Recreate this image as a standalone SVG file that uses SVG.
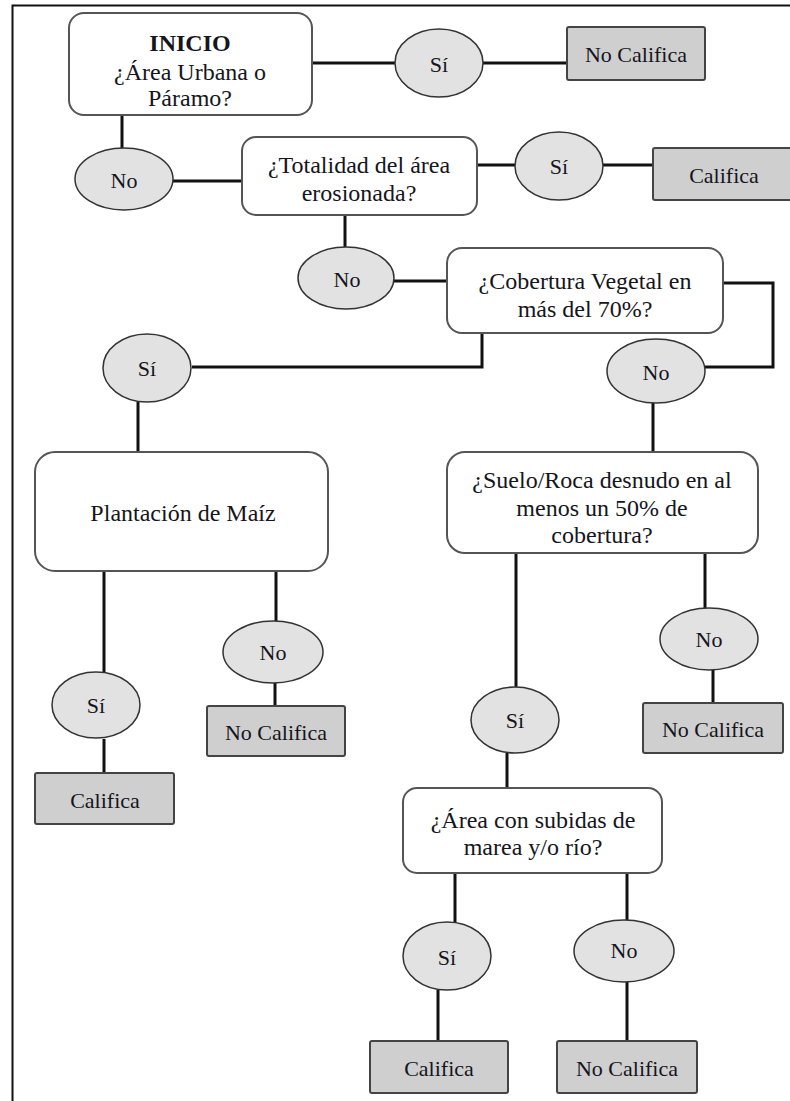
<svg xmlns="http://www.w3.org/2000/svg" width="790" height="1101" viewBox="0 0 790 1101">
<style>
text{font-family:"Liberation Serif","Times New Roman",serif;fill:#151520;text-anchor:middle;dominant-baseline:central}
.q{font-size:24px}
.l{font-size:22px}
.b{font-weight:bold}
.qbox{fill:#fff;stroke:#555;stroke-width:2}
.leaf{fill:#cfcfcf;stroke:#444;stroke-width:2}
.ell{fill:#e2e2e2;stroke:#333;stroke-width:1.5}
.c{fill:none;stroke:#111;stroke-width:3}
</style>
<rect width="790" height="1101" fill="#fff"/>
<path d="M12.5,1101 V5.5 H790" fill="none" stroke="#111" stroke-width="2"/>
<g id="connectors">
<path class="c" d="M312,63 H395"/>
<path class="c" d="M483,63 H567"/>
<path class="c" d="M122,115 V148"/>
<path class="c" d="M173,181 H242"/>
<path class="c" d="M477,165 H515"/>
<path class="c" d="M603,165 H653"/>
<path class="c" d="M345,215 V247"/>
<path class="c" d="M394,281 H447"/>
<path class="c" d="M192,367 H482 V333"/>
<path class="c" d="M723,283 H773 V367 H705"/>
<path class="c" d="M138,402 V452"/>
<path class="c" d="M653,403 V452"/>
<path class="c" d="M104,571 V672"/>
<path class="c" d="M104,739 V773"/>
<path class="c" d="M276,571 V621"/>
<path class="c" d="M275,683 V706"/>
<path class="c" d="M516,553 V687"/>
<path class="c" d="M507,753 V788"/>
<path class="c" d="M705,553 V608"/>
<path class="c" d="M713,670 V703"/>
<path class="c" d="M455,873 V923"/>
<path class="c" d="M438,990 V1041"/>
<path class="c" d="M627,873 V920"/>
<path class="c" d="M627,981 V1041"/>
</g>
<g id="inicio">
<rect class="qbox" x="69" y="13" width="243" height="102" rx="15"/>
<text class="q b" x="190" y="43">INICIO</text>
<text class="q" x="190" y="72">¿Área Urbana o</text>
<text class="q" x="190" y="98">Páramo?</text>
</g>
<g id="si1"><ellipse class="ell" cx="439" cy="63" rx="44" ry="34"/><text class="l" x="439" y="64">Sí</text></g>
<g id="nocalifica1"><rect class="leaf" x="567" y="27" width="138" height="53" rx="2"/><text class="l" x="636" y="54">No Califica</text></g>
<g id="no1"><ellipse class="ell" cx="124" cy="179" rx="49" ry="31"/><text class="l" x="124" y="180">No</text></g>
<g id="totalidad">
<rect class="qbox" x="242" y="137" width="235" height="78" rx="14"/>
<text class="q" x="359" y="165">¿Totalidad del área</text>
<text class="q" x="359" y="193">erosionada?</text>
</g>
<g id="si2"><ellipse class="ell" cx="559" cy="166" rx="44" ry="34"/><text class="l" x="559" y="166">Sí</text></g>
<g id="califica1"><rect class="leaf" x="653" y="148" width="145" height="52" rx="2"/><text class="l" x="724" y="175">Califica</text></g>
<g id="no2"><ellipse class="ell" cx="346" cy="278" rx="48" ry="31"/><text class="l" x="347" y="279">No</text></g>
<g id="cobertura">
<rect class="qbox" x="447" y="248" width="276" height="85" rx="15"/>
<text class="q" x="585" y="281">¿Cobertura Vegetal en</text>
<text class="q" x="585" y="309">más del 70%?</text>
</g>
<g id="si3"><ellipse class="ell" cx="147" cy="368" rx="44" ry="34"/><text class="l" x="147" y="368">Sí</text></g>
<g id="no3"><ellipse class="ell" cx="656" cy="371" rx="49" ry="32"/><text class="l" x="656" y="372">No</text></g>
<g id="plantacion">
<rect class="qbox" x="35" y="452" width="293" height="119" rx="20"/>
<text class="q" x="183" y="513">Plantación de Maíz</text>
</g>
<g id="suelo">
<rect class="qbox" x="447" y="452" width="311" height="101" rx="18"/>
<text class="q" x="602" y="480">¿Suelo/Roca desnudo en al</text>
<text class="q" x="602" y="508">menos un 50% de</text>
<text class="q" x="602" y="535">cobertura?</text>
</g>
<g id="no4"><ellipse class="ell" cx="273" cy="652" rx="50" ry="31"/><text class="l" x="273" y="652">No</text></g>
<g id="nocalifica2"><rect class="leaf" x="207" y="706" width="138" height="50" rx="2"/><text class="l" x="276" y="732">No Califica</text></g>
<g id="si4"><ellipse class="ell" cx="96" cy="705" rx="44" ry="33"/><text class="l" x="96" y="705">Sí</text></g>
<g id="califica2"><rect class="leaf" x="35" y="773" width="139" height="51" rx="2"/><text class="l" x="105" y="800">Califica</text></g>
<g id="no5"><ellipse class="ell" cx="709" cy="639" rx="49" ry="31"/><text class="l" x="709" y="639">No</text></g>
<g id="nocalifica3"><rect class="leaf" x="643" y="703" width="140" height="50" rx="2"/><text class="l" x="713" y="729">No Califica</text></g>
<g id="si5"><ellipse class="ell" cx="515" cy="720" rx="44" ry="33"/><text class="l" x="515" y="720">Sí</text></g>
<g id="area">
<rect class="qbox" x="403" y="788" width="259" height="85" rx="14"/>
<text class="q" x="533" y="820">¿Área con subidas de</text>
<text class="q" x="533" y="847">marea y/o río?</text>
</g>
<g id="si6"><ellipse class="ell" cx="447" cy="956" rx="44" ry="34"/><text class="l" x="447" y="957">Sí</text></g>
<g id="no6"><ellipse class="ell" cx="624" cy="951" rx="50" ry="31"/><text class="l" x="624" y="950">No</text></g>
<g id="califica3"><rect class="leaf" x="370" y="1041" width="138" height="52" rx="2"/><text class="l" x="439" y="1068">Califica</text></g>
<g id="nocalifica4"><rect class="leaf" x="557" y="1041" width="140" height="52" rx="2"/><text class="l" x="627" y="1068">No Califica</text></g>
</svg>
